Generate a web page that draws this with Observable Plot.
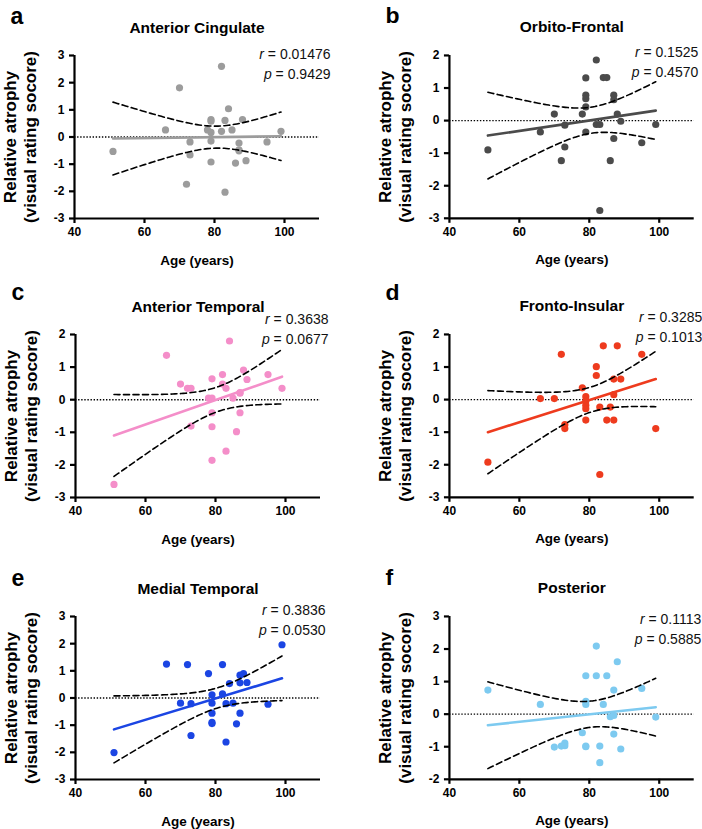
<!DOCTYPE html>
<html>
<head>
<meta charset="utf-8">
<script src="https://cdn.jsdelivr.net/npm/d3@7"></script>
<script src="https://cdn.jsdelivr.net/npm/@observablehq/plot@0.6"></script>
<style>
  html, body { margin: 0; padding: 0; background: #fff; }
  body { width: 702px; height: 829px; overflow: hidden; position: relative; font-family: "Liberation Sans", Arial, sans-serif; }
  .panel { position: absolute; }
  .panel svg { overflow: visible; }
</style>
</head>
<body>
<div id="chart" style="position:relative;width:702px;height:829px"></div>
<script>
// ---- Data (age in years, relative atrophy score) ----
const agesA = [51,66,70,72,73,73,78,79,79,79,79,79,82,82,83,83,84,85,86,87,87,87,88,89,95,99];
const valsA = [-0.53,0.26,1.81,-1.74,-0.18,-0.66,0.26,0.64,0.58,0.17,-0.15,-0.92,2.6,0.21,0.61,-2.03,1.04,0.26,-0.96,-0.22,-0.51,-0.47,0.64,-0.87,-0.18,0.21];

const agesB = [51,66,70,72,73,73,78,79,79,79,79,79,82,82,83,83,84,85,86,87,87,87,88,89,95,99];
const valsB = [-0.90,-0.35,0.20,-1.23,-0.14,-0.81,0.20,1.31,0.78,0.67,0.42,-0.35,1.86,-0.12,-0.12,-2.76,1.32,1.32,-1.23,0.78,0.64,-0.55,0.20,-0.02,-0.68,-0.12];

const agesC = [51,66,70,72,73,73,78,79,79,79,79,79,82,82,83,83,84,85,86,87,87,87,88,89,95,99];
const valsC = [-2.60,1.36,0.48,0.35,0.35,-0.81,0.05,0.64,0.05,-0.40,-0.83,-1.86,0.77,0.48,0.35,-1.58,1.80,0.05,-0.98,0.20,-0.40,0.22,0.91,0.62,0.77,0.35];

const agesD = [51,66,70,72,73,73,78,79,79,79,79,79,82,82,83,83,84,85,86,87,87,87,88,89,95,99];
const valsD = [-1.92,0.03,0.03,1.39,-0.77,-0.89,0.36,0.09,-0.04,-0.17,-0.28,-0.63,1.01,0.74,-0.23,-2.30,1.65,-0.63,-0.23,0.63,0.15,-0.63,1.65,0.63,1.39,-0.89];

const agesE = [51,66,70,72,73,73,78,79,79,79,79,79,82,82,83,83,84,85,86,87,87,87,88,89,95,99];
const valsE = [-2.01,1.25,-0.19,1.23,-0.21,-1.38,0.90,0.12,-0.19,-0.56,-0.94,-0.90,1.23,0.15,-0.21,-1.62,0.53,-0.19,-0.95,0.84,0.56,-0.56,0.90,0.57,-0.23,1.96];

const agesF = [51,66,70,72,73,73,78,79,79,79,79,79,82,82,83,83,84,85,86,87,87,87,88,89,95,99];
const valsF = [0.74,0.30,-1.01,-0.98,-0.89,-0.97,-0.57,1.18,0.39,0.30,-0.98,-1.00,2.09,1.18,-0.98,-1.49,0.30,1.18,-0.08,0.74,-0.04,-0.61,1.61,-1.07,0.79,-0.09];

const letters = ["a","b","c","d","e","f"];
const titles = ["Anterior Cingulate","Orbito-Frontal","Anterior Temporal","Fronto-Insular","Medial Temporal","Posterior"];
const rValues = ["0.01476","0.1525","0.3638","0.3285","0.3836","0.1113"];
const pValues = ["0.9429","0.4570","0.0677","0.1013","0.0530","0.5885"];
const yDomains = [[-3,3],[-3,2],[-3,2],[-3,2],[-3,3],[-2,3]];
const xTicks = [40,60,80,100];
const xLabel = "Age (years)";
const yLabel = "Relative atrophy\n(visual rating socore)";

// ---- Layout / style (kept apart from the data) ----
const colors = ["#9c9c9c","#4b4b4b","#f48ec9","#ee3b1e","#1b45e3","#7dcaf0"];
const layout = [
  {left: -2,    top: -1,    width: 346, mr: 25, rp: [11, 3, 23],   letterDy: -32},
  {left: 373.3, top: -1,    width: 329, mr: 8,  rp: [4, 2, 22],    letterDy: -32},
  {left: -1,    top: 278.3, width: 346, mr: 25, rp: [8, -11, 9],   letterDy: -35},
  {left: 373.3, top: 278.3, width: 329, mr: 8,  rp: [8, -12.5, 8], letterDy: -34},
  {left: -1,    top: 559.7, width: 346, mr: 25, rp: [5, -1.5, 18.5], letterDy: -31},
  {left: 373.3, top: 559.7, width: 329, mr: 8,  rp: [7, 8, 28],    letterDy: -31}
];
const ageSets = [agesA, agesB, agesC, agesD, agesE, agesF];
const valSets = [valsA, valsB, valsC, valsD, valsE, valsF];

const FONT = "'Liberation Sans', Arial, Helvetica, sans-serif";
const T95 = 2.0639; // Student t, 95%, df = 24

function fit(xs, ys) {
  const n = xs.length, mx = d3.mean(xs), my = d3.mean(ys);
  let sxx = 0, sxy = 0;
  for (let i = 0; i < n; i++) { sxx += (xs[i]-mx)**2; sxy += (xs[i]-mx)*(ys[i]-my); }
  const b = sxy / sxx, a = my - b * mx;
  let sse = 0;
  for (let i = 0; i < n; i++) sse += (ys[i] - a - b*xs[i])**2;
  return {a, b, s: Math.sqrt(sse/(n-2)), mx, sxx, n};
}

const root = document.getElementById("chart");

for (let k = 0; k < 6; k++) {
  const ages = ageSets[k], vals = valSets[k];
  const data = ages.map((age, i) => ({age, val: vals[i]}));
  const f = fit(ages, vals);
  const xmin = d3.min(ages), xmax = d3.max(ages);
  const steps = 80;
  const band = d3.range(steps + 1).map(i => {
    const x = xmin + (xmax - xmin) * i / steps;
    const yh = f.a + f.b * x;
    const h = T95 * f.s * Math.sqrt(1/f.n + (x - f.mx)**2 / f.sxx);
    return {x, lo: yh - h, hi: yh + h};
  });
  const fitLine = [xmin, xmax].map(x => ({x, y: f.a + f.b * x}));
  const yd = yDomains[k];
  const yTicks = d3.range(yd[0], yd[1] + 1);
  const L = layout[k];

  const chart = Plot.plot({
    width: L.width,
    height: 277,
    marginLeft: 76,
    marginRight: L.mr,
    marginTop: 56,
    marginBottom: 58,
    x: {domain: [40, 110]},
    y: {domain: yd},
    style: {fontFamily: FONT, background: "transparent", overflow: "visible", color: "#000"},
    marks: [
      Plot.ruleY([0], {stroke: "#000", strokeWidth: 1.4, strokeDasharray: "1.4,1.7"}),
      Plot.dot(data, {x: "age", y: "val", r: 3.6, fill: colors[k], stroke: "none"}),
      Plot.line(band, {x: "x", y: "hi", stroke: "#000", strokeWidth: 1.6, strokeDasharray: "6,3.5"}),
      Plot.line(band, {x: "x", y: "lo", stroke: "#000", strokeWidth: 1.6, strokeDasharray: "6,3.5"}),
      Plot.line(fitLine, {x: "x", y: "y", stroke: colors[k], strokeWidth: 2.6}),
      Plot.axisX({ticks: xTicks, tickSize: 5, tickPadding: 4, strokeWidth: 2.2, fontSize: 12, fontWeight: "bold", label: null, tickFormat: d => String(d)}),
      Plot.axisY({ticks: yTicks, tickSize: 5, tickPadding: 5, strokeWidth: 2.2, fontSize: 12, fontWeight: "bold", label: null, tickFormat: d => String(d)}),
      Plot.ruleX([40], {stroke: "#000", strokeWidth: 2.2}),
      Plot.ruleY([yd[0]], {stroke: "#000", strokeWidth: 2.2}),
      Plot.text([titles[k]], {frameAnchor: "top", lineAnchor: "bottom", dy: -23, fontSize: 15.5, fontWeight: "bold", fill: "#000"}),
      Plot.text([letters[k]], {frameAnchor: "top-left", textAnchor: "start", lineAnchor: "bottom", dx: -64, dy: L.letterDy, fontSize: 23, fontWeight: "bold", fill: "#000"}),
      Plot.text([xLabel], {frameAnchor: "bottom", lineAnchor: "bottom", dy: 46, fontSize: 13.5, fontWeight: "bold", fill: "#000"}),
      Plot.text([yLabel], {frameAnchor: "left", textAnchor: "middle", rotate: -90, dx: -55, lineAnchor: "middle", lineHeight: 1.18, fontSize: 17, fontWeight: "bold", fill: "#000"}),
      Plot.text(["r = " + rValues[k]], {frameAnchor: "top-right", textAnchor: "end", lineAnchor: "bottom", dx: L.rp[0], dy: L.rp[1], fontSize: 14, fill: "#111"}),
      Plot.text(["p = " + pValues[k]], {frameAnchor: "top-right", textAnchor: "end", lineAnchor: "bottom", dx: L.rp[0], dy: L.rp[2], fontSize: 14, fill: "#111"})
    ]
  });

  // italicise the r and p symbols
  d3.select(chart).selectAll("text").each(function() {
    const t = this.textContent;
    if (/^[rp] = /.test(t)) {
      const sym = t[0], rest = t.slice(1);
      const sel = d3.select(this);
      sel.text(null);
      sel.append("tspan").attr("font-style", "italic").text(sym);
      sel.append("tspan").text(rest);
    }
  });

  const div = document.createElement("div");
  div.className = "panel";
  div.style.left = L.left + "px";
  div.style.top = L.top + "px";
  div.appendChild(chart);
  root.appendChild(div);
}
</script>
</body>
</html>
